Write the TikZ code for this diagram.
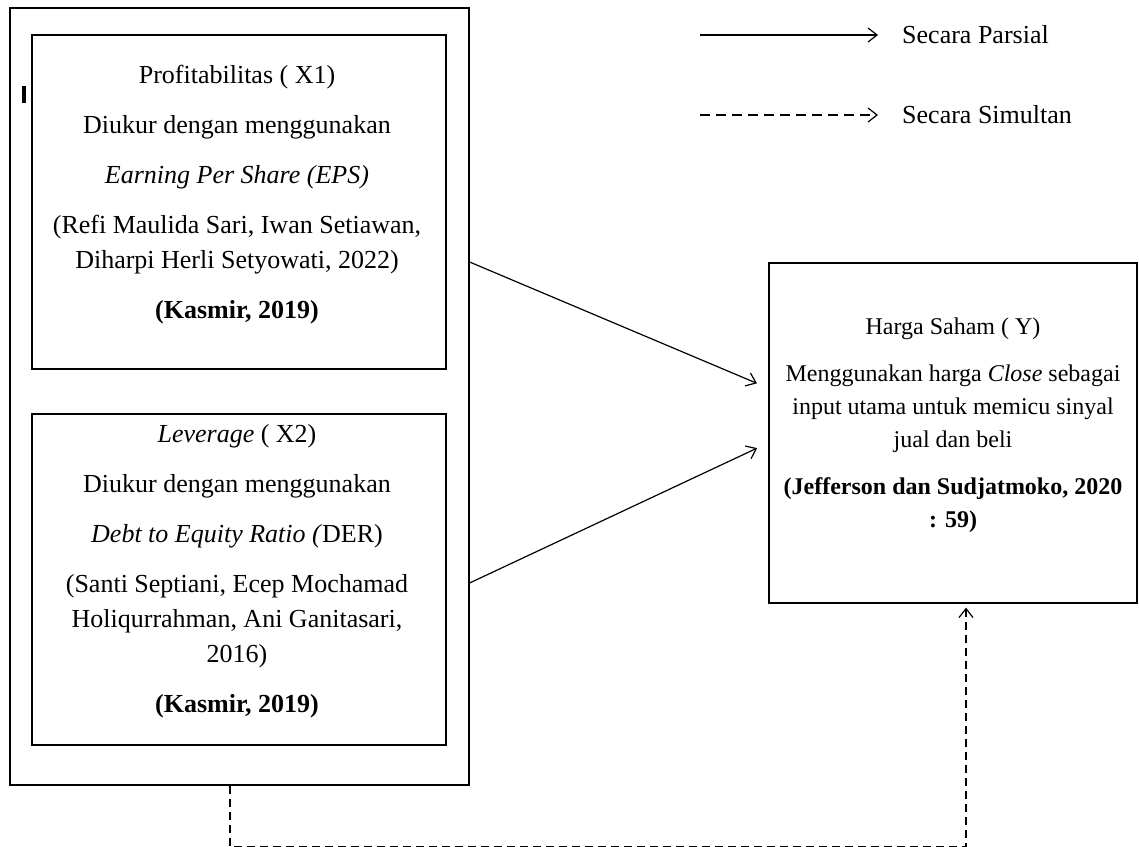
\documentclass[tikz,border=0pt]{standalone}
\usepackage{fontspec}
\setmainfont{Liberation Serif}
\usetikzlibrary{positioning,arrows.meta}

\begin{document}
\begin{tikzpicture}[x=1pt,y=-1pt,
    kotak/.style={draw, line width=1.6pt, rectangle, inner sep=0pt, anchor=north west},
    isi/.style={align=center, font=\fontsize{26}{35}\selectfont},
    panah/.style={line width=1.2pt, -{Straight Barb[length=9pt,width=14pt]}},
    putus/.style={panah, dash pattern=on 8pt off 5pt}]
    \useasboundingbox (0,0) rectangle (1139,846);

    % Draw boxes
    \node[kotak, minimum width=459pt, minimum height=777pt] (luar) at (9,7) {};
    \node[kotak, minimum width=414pt, minimum height=334pt] (x1) at (31,34) {};
    \node[kotak, minimum width=414pt, minimum height=331pt] (x2) at (31,413) {};
    \node[kotak, minimum width=368pt, minimum height=340pt] (y) at (768,262) {};
    \draw[line width=3.5pt] (24,86) -- (24,103);

    % Box texts
    \node[isi] (x1t) at (237,195) {Profitabilitas ( X1)\\[15pt]
      Diukur dengan menggunakan\\[15pt]
      \textit{Earning Per Share (EPS)}\\[15pt]
      (Refi Maulida Sari, Iwan Setiawan,\\
      Diharpi Herli Setyowati, 2022)\\[15pt]
      \textbf{(Kasmir, 2019)}};
    \node[isi] (x2t) at (237,571) {\textit{Leverage} ( X2)\\[15pt]
      Diukur dengan menggunakan\\[15pt]
      \textit{Debt to Equity Ratio (}DER)\\[15pt]
      (Santi Septiani, Ecep Mochamad\\
      Holiqurrahman, Ani Ganitasari,\\
      2016)\\[15pt]
      \textbf{(Kasmir, 2019)}};
    \node[isi, font=\fontsize{24}{33}\selectfont] (yt) at (953,425) {Harga Saham ( Y)\\[14pt]
      Menggunakan harga \textit{Close} sebagai\\
      input utama untuk memicu sinyal\\
      jual dan beli\\[14pt]
      \textbf{(Jefferson dan Sudjatmoko, 2020}\\
      \textbf{: 59)}};

    % Legend
    \coordinate (a1) at (700,35);
    \coordinate (a2) at (700,115);
    \node[anchor=west, inner sep=0pt, font=\fontsize{26}{35}\selectfont] (parsial) at (902,35) {Secara Parsial};
    \node[anchor=west, inner sep=0pt, font=\fontsize{26}{35}\selectfont] (simultan) at (902,115) {Secara Simultan};
    \draw[panah, shorten >=24pt] (a1) -- (parsial.west);
    \draw[putus, dash pattern=on 10pt off 6pt, shorten >=24pt] (a2) -- (simultan.west);

    % Arrows
    \draw[panah, shorten >=12pt] ([yshift=-255pt]luar.north east) -- ([yshift=-126pt]y.north west);
    \draw[panah, shorten >=12pt] ([yshift=-576pt]luar.north east) -- ([yshift=-181pt]y.north west);
    \coordinate (d1) at ([xshift=221pt]luar.south west);
    \draw[putus] (d1) -- ++(0,61) -| ([xshift=198pt,yshift=-4pt]y.south west);

\end{tikzpicture}
\end{document}
